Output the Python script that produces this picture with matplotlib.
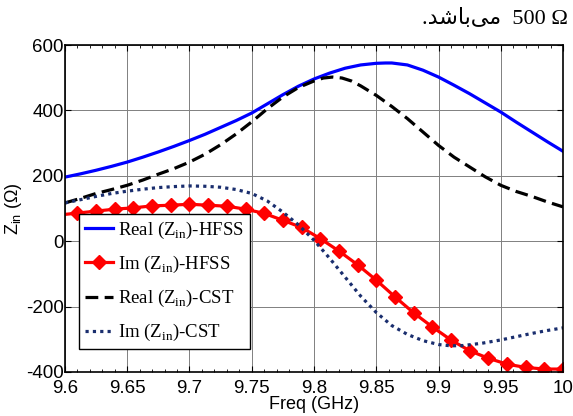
import matplotlib
matplotlib.use("Agg")
import matplotlib.pyplot as plt
import numpy as np

# Real (Zin) - HFSS
real_hfss_f = [9.6, 9.6125, 9.625, 9.6375, 9.65, 9.6625, 9.675, 9.6875, 9.7, 9.7125, 9.725, 9.7375, 9.75,
               9.7625, 9.775, 9.7875, 9.8, 9.8125, 9.825, 9.8375, 9.85, 9.8575, 9.8625, 9.875, 9.8875, 9.9,
               9.9125, 9.925, 9.9375, 9.95, 9.9625, 9.975, 9.9875, 10.0]
real_hfss_z = [196, 206, 217, 229, 242, 257, 273, 290, 308, 327, 348, 369, 392,
               420, 448, 474, 496, 514, 529, 539, 544, 545, 545, 539, 523, 502,
               477, 451, 423, 395, 364, 334, 304, 275]

# Im (Zin) - HFSS (first point is line start, the rest carry markers)
im_hfss_f = [9.6, 9.61, 9.625, 9.64, 9.655, 9.67, 9.685, 9.7, 9.715, 9.73, 9.745, 9.76, 9.775, 9.79,
             9.805, 9.82, 9.835, 9.85, 9.865, 9.88, 9.895, 9.91, 9.925, 9.94, 9.955, 9.97, 9.985, 10.0]
im_hfss_z = [82, 86, 92, 98, 102, 108, 110, 113, 110, 107, 98, 85, 64, 42,
             8, -30, -72, -119, -170, -219, -262, -302, -335, -358, -376, -386, -391, -391]

# Real (Zin) - CST
real_cst_f = [9.6, 9.6125, 9.625, 9.6375, 9.65, 9.6625, 9.675, 9.6875, 9.7, 9.7125, 9.725, 9.7375, 9.75,
              9.7625, 9.775, 9.7875, 9.8, 9.8075, 9.815, 9.8225, 9.83, 9.8375, 9.85, 9.8625, 9.875, 9.8875,
              9.9, 9.9125, 9.925, 9.9375, 9.95, 9.9625, 9.975, 9.9875, 10.0]
real_cst_z = [117, 131, 146, 158, 171, 187, 205, 222, 242, 266, 295, 328, 365,
              405, 441, 470, 490, 499, 502, 499, 490, 475, 446, 412, 375, 334,
              293, 257, 227, 197, 171, 152, 137, 120, 105]

# Im (Zin) - CST
im_cst_f = [9.6, 9.6125, 9.625, 9.6375, 9.65, 9.6625, 9.675, 9.6875, 9.7, 9.7125, 9.725, 9.7375, 9.75,
            9.7625, 9.775, 9.7875, 9.8, 9.8125, 9.825, 9.8375, 9.85, 9.8625, 9.875, 9.8875, 9.9, 9.91,
            9.92, 9.935, 9.95, 9.9625, 9.975, 9.9875, 10.0]
im_cst_z = [117, 127, 137, 146, 153, 159, 164, 167, 169, 168, 165, 158, 146,
            123, 89, 50, 3, -52, -110, -168, -218, -258, -285, -304, -316, -320,
            -319, -312, -302, -292, -282, -273, -265]

x_ticks = [9.6, 9.65, 9.7, 9.75, 9.8, 9.85, 9.9, 9.95, 10]
x_ticklabels = ["9.6", "9.65", "9.7", "9.75", "9.8", "9.85", "9.9", "9.95", "10"]
y_ticks = [-400, -200, 0, 200, 400, 600]

sans = ["Liberation Sans", "DejaVu Sans"]
serif = ["Liberation Serif", "DejaVu Serif"]

fig = plt.figure(figsize=(5.73, 4.16), dpi=100)
ax = fig.add_axes([65/573, 1-372/416, (563-65)/573, (372-45)/416])

ax.plot(real_hfss_f, real_hfss_z, color="#0000ff", lw=2.3, label=r"Real (Z$_{\mathregular{in}}$)-HFSS")
ax.plot(im_hfss_f, im_hfss_z, color="#ff0000", lw=2.3, marker="D", markersize=7,
        markevery=list(range(1, len(im_hfss_f))), label=r"Im (Z$_{\mathregular{in}}$)-HFSS")
ax.plot(real_cst_f, real_cst_z, color="black", lw=2.3, dashes=(4, 2), label=r"Real (Z$_{\mathregular{in}}$)-CST")
ax.plot(im_cst_f, im_cst_z, color="#1a2e6e", lw=2.3, linestyle=(0, (1, 1.3)), label=r"Im (Z$_{\mathregular{in}}$)-CST")

ax.set_xlim(9.6, 10)
ax.set_ylim(-400, 600)
ax.set_xticks(x_ticks)
ax.set_xticklabels(x_ticklabels, family=sans, fontsize=13.5)
ax.set_yticks(y_ticks)
ax.set_yticklabels([str(v) for v in y_ticks], family=sans, fontsize=13.5)
ax.set_xticks(np.arange(9.6, 10.0001, 0.01), minor=True)
ax.tick_params(axis="both", which="major", direction="in", length=4, width=0.8, top=True, right=True)
ax.tick_params(axis="y", which="major", pad=1)
ax.tick_params(axis="x", which="major", pad=6)
ax.tick_params(axis="x", which="minor", direction="in", length=2, width=0.6, top=True, bottom=True)
ax.grid(True, which="major", color="#808080", lw=0.7)
for s in ax.spines.values():
    s.set_linewidth(1.2)

ax.set_xlabel("Freq (GHz)", family=sans, fontsize=13, labelpad=-1)
ax.set_ylabel(r"Z$_{\mathregular{in}}$ ($\mathregular{\Omega}$)", family=sans, fontsize=13, labelpad=1)

leg = ax.legend(loc="lower left", bbox_to_anchor=(0.028, 0.07), borderaxespad=0,
                prop={"family": serif, "size": 13.5}, fancybox=False, framealpha=1,
                edgecolor="black", handlelength=1.5, handletextpad=0.3, labelspacing=0.7,
                borderpad=0.3)
leg.get_frame().set_linewidth(1.0)

persian = ".\uFEAA\uFEB7\uFE8E\uFE91\uFEF0\uFEE3  500 \u03A9"
fig.text(568/573, 1-24/416, persian, ha="right", va="baseline", fontsize=16,
         family=["Liberation Serif", "DejaVu Sans"])

fig.savefig("out.png", dpi=100)
